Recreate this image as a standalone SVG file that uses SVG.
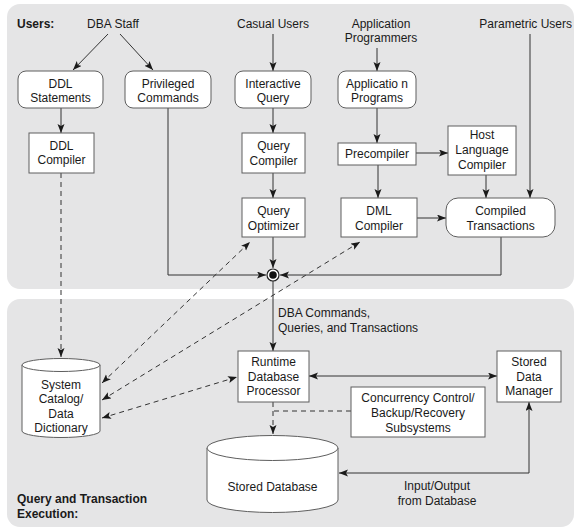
<svg xmlns="http://www.w3.org/2000/svg" width="576" height="530" viewBox="0 0 576 530">
<style>
.panel{fill:#e5e5e6;stroke:none}
.box{fill:#fff;stroke:#5e5e5e;stroke-width:1}
.t{font-family:"Liberation Sans",Arial,sans-serif;font-size:12px;fill:#1a1a1a;text-anchor:middle}
.tl{font-family:"Liberation Sans",Arial,sans-serif;font-size:12px;fill:#1a1a1a}
.b{font-weight:bold}
.ln{fill:none;stroke:#333;stroke-width:1}
.ar{marker-end:url(#ah)}
.ar2{marker-end:url(#ah);marker-start:url(#ah)}
.d{stroke-dasharray:5,4}
</style>
<defs>
<marker id="ah" markerUnits="userSpaceOnUse" markerWidth="10" markerHeight="8" refX="9" refY="3.5" orient="auto-start-reverse">
<path d="M0,0 L9,3.5 L0,7 L2,3.5 z" fill="#1a1a1a"/>
</marker>
</defs>
<rect class="panel" x="7" y="4" width="567" height="285" rx="13"/>
<rect class="panel" x="7" y="299" width="567" height="228" rx="13"/>
<g id="labels">
<text class="tl b" x="17" y="28">Users:</text>
<text class="t" x="113" y="28">DBA Staff</text>
<text class="t" x="273" y="28">Casual Users</text>
<text class="t" x="381" y="28">Application</text>
<text class="t" x="381" y="42">Programmers</text>
<text class="tl" x="572" y="28" text-anchor="end">Parametric Users</text>
<text class="tl" x="278" y="317">DBA Commands,</text>
<text class="tl" x="278" y="332">Queries, and Transactions</text>
<text class="t" x="437" y="490">Input/Output</text>
<text class="t" x="437" y="505">from Database</text>
<text class="tl b" x="17" y="503">Query and Transaction</text>
<text class="tl b" x="17" y="518">Execution:</text>
</g>
<g id="connectors">
<path class="ln ar" d="M108,34 L73,70"/>
<path class="ln ar" d="M120,34 L153,70"/>
<path class="ln ar" d="M273,34 V71"/>
<path class="ln ar" d="M377,48 V71"/>
<path class="ln ar" d="M61,108 V133"/>
<path class="ln ar" d="M273,108 V133"/>
<path class="ln ar" d="M273,173 V198"/>
<path class="ln ar" d="M377,108 V143"/>
<path class="ln ar" d="M416,153 H448"/>
<path class="ln ar" d="M378,165 V198"/>
<path class="ln ar" d="M486,175 V198"/>
<path class="ln ar" d="M530,34 V198"/>
<path class="ln ar" d="M417,218 H446"/>
<path class="ln ar" d="M273,237 V268"/>
<path class="ln ar" d="M168,108 V275 H266"/>
<path class="ln ar" d="M501,237 V275 H280"/>
<path class="ln ar" d="M273,281 V351"/>
<path class="ln ar2" d="M309,376 H497"/>
<path class="ln ar2" d="M529,402 V473 H339"/>
<path class="ln d ar" d="M61,173 V357"/>
<path class="ln d ar2" d="M102,383 L250,242"/>
<path class="ln d ar2" d="M102,400 L360,242"/>
<path class="ln d ar2" d="M102,418 L237,377"/>
<path class="ln d ar" d="M273,402 V434"/>
<path class="ln d" d="M351,411 H273"/>
</g>
<g id="junction">
<circle cx="273" cy="275" r="6" fill="#fff" stroke="#222" stroke-width="1.2"/>
<circle cx="273" cy="275" r="3.8" fill="#111"/>
</g>
<g id="ddl-statements">
<rect class="box" x="18" y="71" width="85" height="37" rx="8"/>
<text class="t" x="60.5" y="88">DDL</text>
<text class="t" x="60.5" y="102">Statements</text>
</g>
<g id="privileged-commands">
<rect class="box" x="125" y="71" width="86" height="37" rx="8"/>
<text class="t" x="168" y="88">Privileged</text>
<text class="t" x="168" y="102">Commands</text>
</g>
<g id="interactive-query">
<rect class="box" x="235" y="71" width="76" height="37" rx="8"/>
<text class="t" x="273" y="88">Interactive</text>
<text class="t" x="273" y="102">Query</text>
</g>
<g id="application-programs">
<rect class="box" x="338" y="71" width="78" height="37" rx="8"/>
<text class="t" x="377" y="88">Applicatio n</text>
<text class="t" x="377" y="102">Programs</text>
</g>
<g id="ddl-compiler">
<rect class="box" x="29" y="133" width="65" height="40"/>
<text class="t" x="61.5" y="150">DDL</text>
<text class="t" x="61.5" y="164">Compiler</text>
</g>
<g id="query-compiler">
<rect class="box" x="242" y="133" width="63" height="40"/>
<text class="t" x="273.5" y="150">Query</text>
<text class="t" x="273.5" y="165">Compiler</text>
</g>
<g id="query-optimizer">
<rect class="box" x="242" y="198" width="63" height="39"/>
<text class="t" x="273.5" y="215">Query</text>
<text class="t" x="273.5" y="230">Optimizer</text>
</g>
<g id="precompiler">
<rect class="box" x="338" y="143" width="78" height="22"/>
<text class="t" x="377" y="158">Precompiler</text>
</g>
<g id="host-language-compiler">
<rect class="box" x="448" y="126" width="68" height="49"/>
<text class="t" x="482" y="139">Host</text>
<text class="t" x="482" y="154">Language</text>
<text class="t" x="482" y="169">Compiler</text>
</g>
<g id="dml-compiler">
<rect class="box" x="341" y="198" width="76" height="39"/>
<text class="t" x="379" y="215">DML</text>
<text class="t" x="379" y="230">Compiler</text>
</g>
<g id="compiled-transactions">
<rect class="box" x="446" y="198" width="109" height="39" rx="12"/>
<text class="t" x="500.5" y="215">Compiled</text>
<text class="t" x="500.5" y="230">Transactions</text>
</g>
<g id="runtime-database-processor">
<rect class="box" x="238" y="351" width="71" height="51"/>
<text class="t" x="273.5" y="366">Runtime</text>
<text class="t" x="273.5" y="381">Database</text>
<text class="t" x="273.5" y="395">Processor</text>
</g>
<g id="stored-data-manager">
<rect class="box" x="497" y="351" width="64" height="51"/>
<text class="t" x="529" y="366">Stored</text>
<text class="t" x="529" y="381">Data</text>
<text class="t" x="529" y="395">Manager</text>
</g>
<g id="concurrency-control">
<rect class="box" x="351" y="387" width="134" height="50"/>
<text class="t" x="418" y="402">Concurrency Control/</text>
<text class="t" x="418" y="417">Backup/Recovery</text>
<text class="t" x="418" y="432">Subsystems</text>
</g>
<g id="system-catalog">
<path class="box" d="M22,365 V431 A39,6.5 0 0 0 100,431 V365"/>
<ellipse class="box" cx="61" cy="365" rx="39" ry="6.5"/>
<text class="t" x="61" y="389">System</text>
<text class="t" x="61" y="403">Catalog/</text>
<text class="t" x="61" y="418">Data</text>
<text class="t" x="61" y="432">Dictionary</text>
</g>
<g id="stored-database">
<path class="box" d="M207,448 V500 A65.5,12.5 0 0 0 338,500 V448"/>
<ellipse class="box" cx="272.5" cy="448" rx="65.5" ry="12.5"/>
<text class="t" x="272.5" y="491">Stored Database</text>
</g>
</svg>
